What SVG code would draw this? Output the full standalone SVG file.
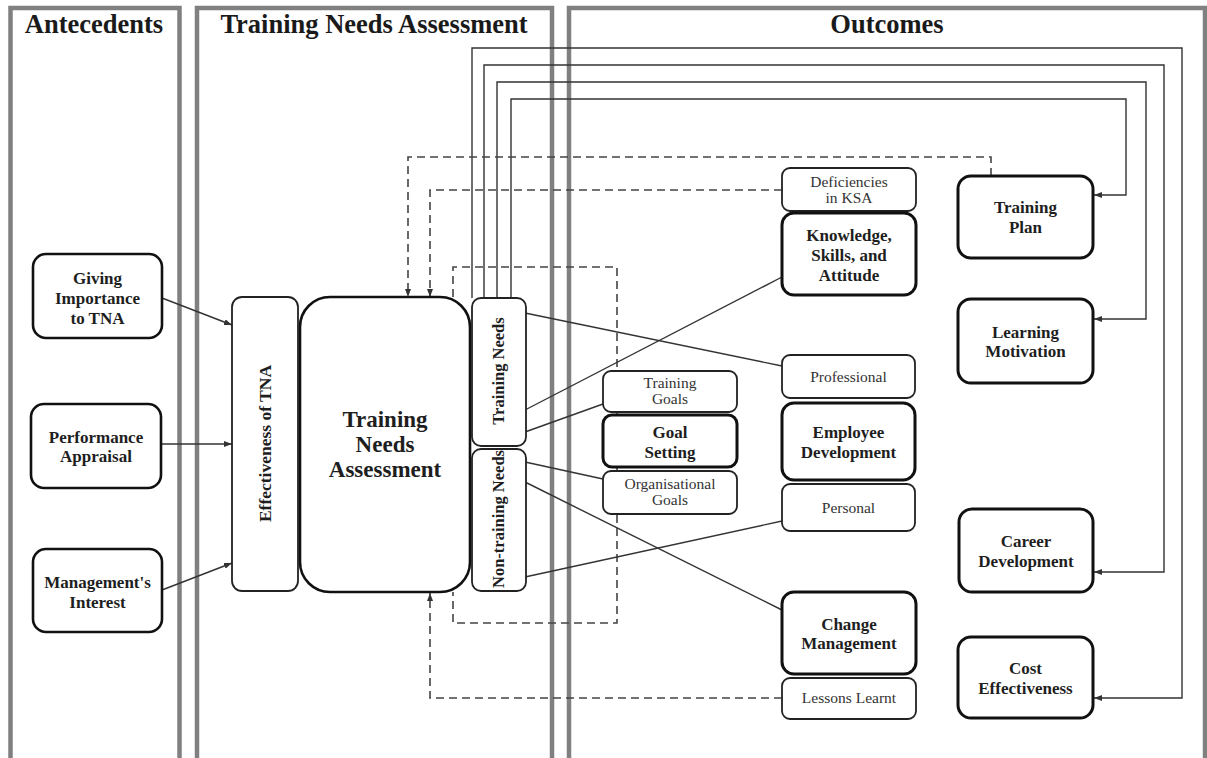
<svg xmlns="http://www.w3.org/2000/svg" width="1207" height="758" viewBox="0 0 1207 758">
<style>
.panel{fill:none;stroke:#808080;stroke-width:4.5}
.title{font-family:"Liberation Serif","Times New Roman",serif;font-weight:bold;font-size:26.5px;fill:#1a1a1a;text-anchor:middle}
.box{fill:#fff;stroke:#111;stroke-width:2.6}
.boxh{fill:#fff;stroke:#111;stroke-width:3}
.boxt{fill:#fff;stroke:#222;stroke-width:1.8}
.t{font-family:"Liberation Serif","Times New Roman",serif;font-weight:bold;font-size:17px;fill:#1e1e1e;text-anchor:middle}
.tn{font-family:"Liberation Serif","Times New Roman",serif;font-size:15.5px;fill:#333;text-anchor:middle}
.tr{font-family:"Liberation Serif","Times New Roman",serif;font-weight:bold;font-size:16.5px;fill:#1e1e1e;text-anchor:middle}
.big{font-family:"Liberation Serif","Times New Roman",serif;font-weight:bold;font-size:23px;fill:#1e1e1e;text-anchor:middle}
.conn{fill:none;stroke:#333;stroke-width:1.4}
.dash{fill:none;stroke:#444;stroke-width:1.6;stroke-dasharray:8 5}
</style>
<defs>
<marker id="arr" markerUnits="userSpaceOnUse" markerWidth="8" markerHeight="6" refX="8" refY="3" orient="auto">
<path d="M0,0 L8,3 L0,6 z" fill="#333"/>
</marker>
</defs>
<rect width="1207" height="758" fill="#fff"/>

<g id="panels">
<rect class="panel" x="10.5" y="8" width="169" height="780"/>
<rect class="panel" x="197" y="8" width="355" height="780"/>
<rect class="panel" x="569" y="8" width="636" height="780"/>
<text class="title" x="94" y="33">Antecedents</text>
<text class="title" x="374" y="33">Training Needs Assessment</text>
<text class="title" x="887" y="33">Outcomes</text>
</g>

<g id="connectors">
<line class="conn" x1="162" y1="298" x2="232" y2="325" marker-end="url(#arr)"/>
<line class="conn" x1="161" y1="444" x2="232" y2="444" marker-end="url(#arr)"/>
<line class="conn" x1="162" y1="590" x2="232" y2="563" marker-end="url(#arr)"/>
<path class="conn" d="M472,298 V48 H1182 V698 H1094" marker-end="url(#arr)"/>
<path class="conn" d="M484,298 V65 H1164 V572 H1094" marker-end="url(#arr)"/>
<path class="conn" d="M497,298 V82 H1146 V319 H1094" marker-end="url(#arr)"/>
<path class="conn" d="M511,298 V99 H1126 V195 H1094" marker-end="url(#arr)"/>
<path class="dash" d="M991,176 V157 H408 V297" marker-end="url(#arr)"/>
<path class="dash" d="M782,190 H430 V297" marker-end="url(#arr)"/>
<path class="dash" d="M782,698 H430 V593" marker-end="url(#arr)"/>
<path class="dash" d="M453,297 V267 H617 V623 H453 V592"/>
<line class="conn" x1="525" y1="313" x2="782" y2="366"/>
<line class="conn" x1="525" y1="410" x2="782" y2="277"/>
<line class="conn" x1="525" y1="432" x2="603" y2="404"/>
<line class="conn" x1="525" y1="462" x2="603" y2="479"/>
<line class="conn" x1="525" y1="482" x2="782" y2="610"/>
<line class="conn" x1="525" y1="577" x2="782" y2="521"/>
</g>

<g id="giving">
<rect class="box" x="33" y="254" width="129" height="84" rx="13"/>
<text class="t" x="97.5" y="284">Giving</text>
<text class="t" x="97.5" y="304">Importance</text>
<text class="t" x="97.5" y="324">to TNA</text>
</g>
<g id="performance">
<rect class="box" x="31" y="404" width="130" height="84" rx="13"/>
<text class="t" x="96" y="443">Performance</text>
<text class="t" x="96" y="462">Appraisal</text>
</g>
<g id="management">
<rect class="box" x="33" y="549" width="129" height="83" rx="13"/>
<text class="t" x="97.5" y="588">Management's</text>
<text class="t" x="97.5" y="608">Interest</text>
</g>

<g id="effectiveness">
<rect class="boxt" x="232" y="297" width="66" height="294" rx="10"/>
<text class="tr" style="font-size:17.5px" transform="rotate(-90 271 443.5)" x="271" y="443.5">Effectiveness of TNA</text>
</g>
<g id="tna">
<rect class="box" x="300" y="297" width="170" height="295" rx="30"/>
<text class="big" x="385" y="427">Training</text>
<text class="big" x="385" y="452">Needs</text>
<text class="big" x="385" y="477">Assessment</text>
</g>
<g id="training-needs">
<rect class="boxt" x="472" y="298" width="54" height="148" rx="9"/>
<text class="tr" transform="rotate(-90 504 371)" x="504" y="371">Training Needs</text>
</g>
<g id="non-training-needs">
<rect class="boxt" x="472" y="449" width="54" height="142" rx="9"/>
<text class="tr" transform="rotate(-90 504 519)" x="504" y="519">Non-training Needs</text>
</g>

<g id="training-goals">
<rect class="boxt" x="603" y="371" width="134" height="41" rx="8"/>
<text class="tn" x="670" y="388">Training</text>
<text class="tn" x="670" y="404">Goals</text>
</g>
<g id="goal-setting">
<rect class="boxh" x="603" y="415" width="134" height="52" rx="9"/>
<text class="t" x="670" y="438">Goal</text>
<text class="t" x="670" y="458">Setting</text>
</g>
<g id="organisational-goals">
<rect class="boxt" x="603" y="471" width="134" height="43" rx="8"/>
<text class="tn" x="670" y="489">Organisational</text>
<text class="tn" x="670" y="505">Goals</text>
</g>

<g id="deficiencies">
<rect class="boxt" x="782" y="168" width="134" height="43" rx="8"/>
<text class="tn" x="849" y="187">Deficiencies</text>
<text class="tn" x="849" y="203">in KSA</text>
</g>
<g id="ksa">
<rect class="boxh" x="782" y="213" width="134" height="82" rx="12"/>
<text class="t" x="849" y="241">Knowledge,</text>
<text class="t" x="849" y="261">Skills, and</text>
<text class="t" x="849" y="281">Attitude</text>
</g>
<g id="professional">
<rect class="boxt" x="782" y="355" width="133" height="43" rx="8"/>
<text class="tn" x="848.5" y="382">Professional</text>
</g>
<g id="employee-development">
<rect class="boxh" x="782" y="403" width="133" height="77" rx="12"/>
<text class="t" x="848.5" y="438">Employee</text>
<text class="t" x="848.5" y="458">Development</text>
</g>
<g id="personal">
<rect class="boxt" x="782" y="484" width="133" height="47" rx="8"/>
<text class="tn" x="848.5" y="513">Personal</text>
</g>
<g id="change-management">
<rect class="boxh" x="782" y="592" width="134" height="82" rx="12"/>
<text class="t" x="849" y="630">Change</text>
<text class="t" x="849" y="649">Management</text>
</g>
<g id="lessons-learnt">
<rect class="boxt" x="782" y="678" width="134" height="41" rx="8"/>
<text class="tn" x="849" y="703">Lessons Learnt</text>
</g>

<g id="training-plan">
<rect class="boxh" x="958" y="176" width="135" height="82" rx="13"/>
<text class="t" x="1025.5" y="213">Training</text>
<text class="t" x="1025.5" y="233">Plan</text>
</g>
<g id="learning-motivation">
<rect class="boxh" x="958" y="299" width="135" height="84" rx="13"/>
<text class="t" x="1025.5" y="338">Learning</text>
<text class="t" x="1025.5" y="357">Motivation</text>
</g>
<g id="career-development">
<rect class="boxh" x="959" y="509" width="134" height="83" rx="13"/>
<text class="t" x="1026" y="547">Career</text>
<text class="t" x="1026" y="567">Development</text>
</g>
<g id="cost-effectiveness">
<rect class="boxh" x="958" y="637" width="135" height="81" rx="13"/>
<text class="t" x="1025.5" y="674">Cost</text>
<text class="t" x="1025.5" y="694">Effectiveness</text>
</g>
</svg>
